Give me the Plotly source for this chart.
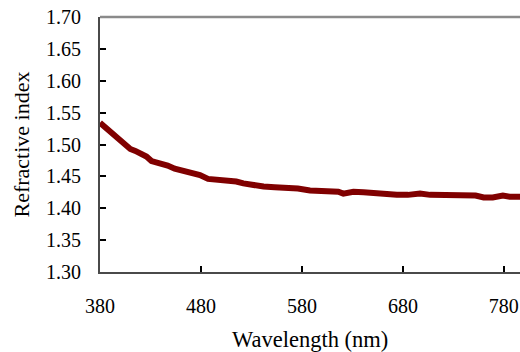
import plotly.graph_objects as go

wavelength = [380, 387, 395, 402, 410, 415, 420, 426, 431, 436, 441, 447, 454, 462, 471, 479,
              487, 495, 502, 509, 515, 522, 532, 542, 553, 565, 576, 588, 600, 611, 616, 621,
              626, 631, 641, 652, 663, 674, 685, 697, 707, 720, 733, 746, 752, 760, 769, 779,
              786, 796]
refractive_index = [1.534, 1.524, 1.514, 1.503, 1.493, 1.490, 1.487, 1.481, 1.474, 1.472, 1.471,
                    1.467, 1.462, 1.459, 1.456, 1.452, 1.446, 1.445, 1.445, 1.445, 1.442, 1.439,
                    1.436, 1.434, 1.433, 1.433, 1.431, 1.428, 1.428, 1.428, 1.426, 1.423, 1.425,
                    1.426, 1.425, 1.423, 1.422, 1.421, 1.421, 1.423, 1.421, 1.421, 1.422, 1.422,
                    1.420, 1.417, 1.417, 1.420, 1.418, 1.418]

x_ticks = [380, 480, 580, 680, 780]
y_ticks = [1.30, 1.35, 1.40, 1.45, 1.50, 1.55, 1.60, 1.65, 1.70]

font_family = "Liberation Serif, Times New Roman, serif"
axis_color = "#4a4a4a"

fig = go.Figure()
fig.add_trace(go.Scatter(
    x=wavelength, y=refractive_index, mode="lines",
    line=dict(color="#800000", width=6, shape="linear"),
    showlegend=False, hoverinfo="skip",
))

fig.update_layout(
    width=520, height=352,
    margin=dict(l=100, r=0, t=17, b=80),
    paper_bgcolor="white", plot_bgcolor="white",
    font=dict(family=font_family, color="black", size=20),
    xaxis=dict(
        range=[380, 796], tickvals=x_ticks, ticktext=[str(v) for v in x_ticks],
        showgrid=False, zeroline=False, showline=True, linecolor=axis_color, linewidth=2,
        ticks="inside", ticklen=6, tickwidth=1.5, tickcolor="black",
        ticklabelstandoff=15, automargin=False, ticklabeloverflow="allow",
    ),
    yaxis=dict(
        range=[1.30, 1.70], tickvals=y_ticks, ticktext=[f"{v:.2f}" for v in y_ticks],
        showgrid=False, zeroline=False, showline=True, linecolor=axis_color, linewidth=2,
        ticks="inside", ticklen=6, tickwidth=1.5, tickcolor="black",
        ticklabelstandoff=13, automargin=False, ticklabeloverflow="allow",
    ),
    shapes=[dict(type="line", xref="paper", yref="paper", x0=0, x1=1, y0=1, y1=1,
                 line=dict(color="#8a8a8a", width=2.5))],
    annotations=[
        dict(text="Wavelength (nm)", xref="paper", yref="paper", x=0.5, y=-0.263,
             xanchor="center", yanchor="middle", showarrow=False, font=dict(size=22.5)),
        dict(text="Refractive index", xref="paper", yref="paper", x=-0.188, y=0.5,
             xanchor="center", yanchor="middle", textangle=-90, showarrow=False,
             font=dict(size=22)),
    ],
)

fig.write_html(
    "out.html",
    config={"displayModeBar": False},
    post_script="document.body.style.margin='0';document.body.style.overflow='hidden';",
)
